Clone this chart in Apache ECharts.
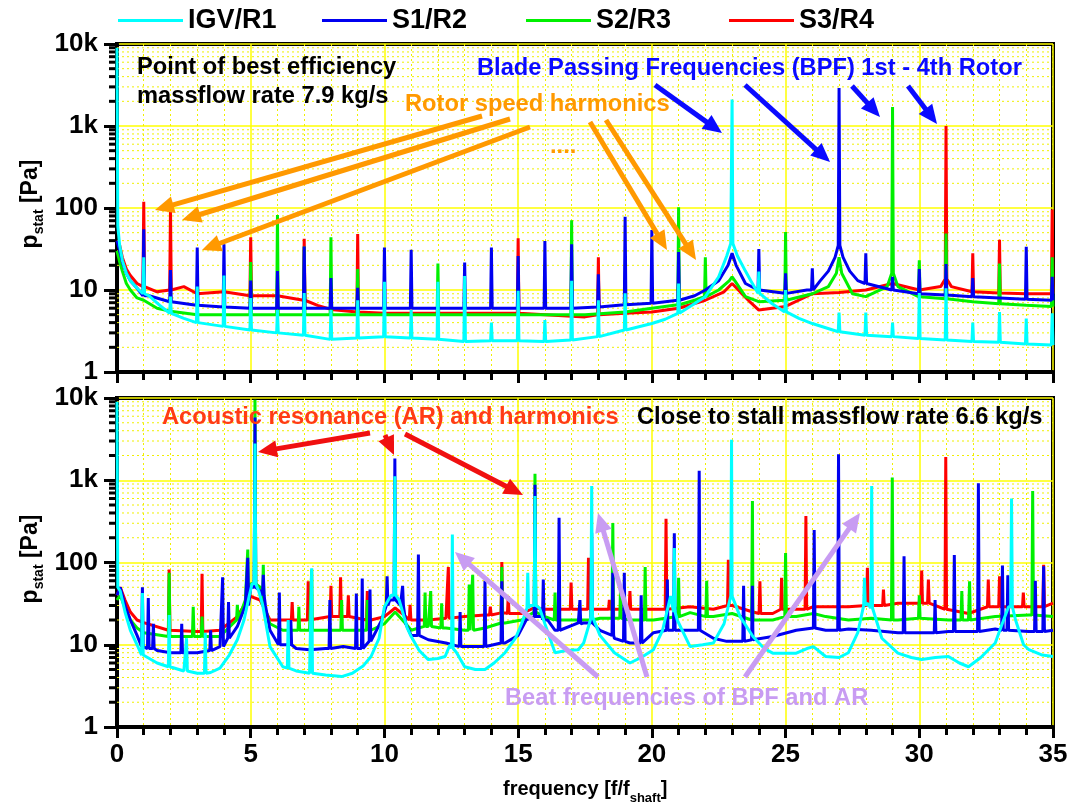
<!DOCTYPE html>
<html>
<head>
<meta charset="utf-8">
<script src="https://cdn.jsdelivr.net/npm/echarts@6/dist/echarts.min.js"></script>
<style>
body{margin:0;background:#fff;}
#chart{width:1074px;height:807px;}
</style>
</head>
<body>
<div id="chart"></div>
<script>
// ---- data: baseline [freq, p] and peaks [freq, foot, top] ----
var seriesNames = ['IGV/R1', 'S1/R2', 'S2/R3', 'S3/R4'];
var seriesColors = ['#00ffff', '#0000f0', '#00f000', '#ff0000'];
var yTickValues = [1, 10, 100, 1000, 10000];
var yTickText = ['1', '10', '100', '1k', '10k'];

// top: point of best efficiency
var topIgvBase = [[0,9000],[0.03,60],[0.1,35],[0.2,23],[0.35,16],[0.5,13],[0.75,10.5],[1.2,8.5],[1.6,6.5],[2,5.2],[2.5,4.5],[3,4],[4,3.6],[5,3.25],[6,3.0],[7,2.8],[8,2.5],[9,2.6],[10,2.7],[11,2.6],[12,2.5],[13,2.35],[14,2.4],[15,2.4],[16,2.35],[17,2.45],[18,2.7],[19,3.25],[20,3.9],[20.5,4.4],[21,5.2],[21.5,6.5],[22,8.3],[22.5,14.5],[22.8,26],[22.95,37],[23.05,37],[23.2,26],[23.5,17],[23.7,13],[24,9.1],[24.5,6.8],[25,5.4],[25.5,4.5],[26,3.9],[27,3.1],[28,2.8],[29,2.7],[30,2.57],[31,2.45],[32,2.35],[33,2.3],[34,2.2],[35,2.13]];
var topIgvPeaks = [[1,9,25],[2,5.2,8.3],[3,4,11],[4,3.6,15],[5,3.25,8],[6,3,5.7],[7,2.8,9.2],[8,2.5,5.7],[9,2.6,7.5],[10,2.7,12.6],[11,2.6,5.7],[12,2.5,12.6],[13,2.35,14.8],[14,2.4,4],[15,2.4,9.8],[16,2.35,4.3],[17,2.45,13],[18,2.7,7.5],[19,3.25,9.1],[21,5.2,12],[23,37,2100],[24,9.1,16.8],[25,5.4,10],[27,3.1,5.3],[28,2.8,5.3],[29,2.7,4],[30,2.57,9.2],[31,2.45,10.5],[32,2.35,4],[33,2.3,5.4],[34,2.2,4.5],[34.97,2.13,5.2]];
var topS1Base = [[0,40],[0.1,30],[0.2,22],[0.35,16],[0.5,13],[0.75,10.5],[1.2,8.5],[2,7.2],[3,6.5],[4,6.2],[6,6],[8,6],[10,6],[12,6],[14,6],[16,6],[18,6.2],[19,6.6],[20,6.9],[21,7.5],[21.6,8.5],[22,10],[22.5,13],[22.85,20],[23,28],[23.15,20],[23.5,12],[24,10],[25,9.1],[25.8,10],[26.3,13],[26.6,17],[26.85,25],[27,35],[27.15,25],[27.4,17],[27.7,13],[28,12],[29,10],[30,9],[31,8.7],[32,8.3],[33,8],[34,7.7],[35,7.5]];
var topS1Peaks = [[1,8.5,55],[2,7.2,17.5],[3,6.5,33],[4,6.2,36],[5,6,13],[6,6,17],[7,6,34],[8,6,14],[9,6,10.6],[10,6,33],[11,6,31],[13,6,21.7],[14,6,33],[15,6,26],[16,6,39.5],[17,6,36],[18,6.2,15.6],[19,6.6,78],[20,6.9,54],[21,7.5,29],[24,10,31.6],[25,9.1,16],[26,10,18.4],[27,35,2900],[28,12,28],[29,10,14.5],[30,9,18],[31,8.7,20.7],[32,8.3,14],[34,7.7,33.6],[34.97,7.5,14.5]];
var topS2Base = [[0,30],[0.1,22],[0.2,17],[0.35,12],[0.5,10],[0.75,8],[1,7.5],[1.5,6],[2,5.5],[3,5],[5,5],[8,5],[12,5],[16,5],[17.5,5],[19,5.4],[20,6],[21,6.6],[21.6,7.5],[22,8.3],[22.5,10],[22.9,13],[23,14.5],[23.1,13],[23.5,8.3],[24,7.2],[25,7.5],[26,9],[26.6,11],[26.9,16],[27,25],[27.1,16],[27.5,9],[28,8.3],[28.8,11],[29,16],[29.2,11],[30,8.3],[31,7.8],[32,7.2],[33,6.8],[34,6.5],[35,6.3]];
var topS2Peaks = [[5,5,22],[6,5,82],[7,5,34],[8,5,44],[9,5,18],[12,5,21],[17,5,71],[21,6.6,102],[22,8.3,25],[25,7.5,51],[29,16,1700],[30,8.3,23],[31,7.8,49],[33,6.8,21],[34.97,6.3,25]];
var topS3Base = [[0,40],[0.1,35],[0.2,25],[0.35,18],[0.5,15],[0.75,12],[1,11],[1.5,9.5],[2,10],[2.5,11],[3,9],[4,9.5],[5,8.5],[6,8.5],[7,7.5],[7.5,6.5],[8,5.8],[9,5.4],[10,5.2],[12,5.2],[14,5.2],[16,5],[17.5,4.7],[19,5.2],[20,5.4],[21,6],[22,7.5],[22.7,9.5],[23,12],[23.3,9.5],[23.7,7],[24,5.7],[25,6.3],[26,9],[27,9.3],[28,10],[29,12],[30,10],[30.8,11],[31,13.6],[31.2,11],[32,9.5],[33,9.2],[34,9],[35,9]];
var topS3Peaks = [[1,11,119],[2,10,99],[5,8.5,44],[7,7.5,42],[9,5.4,48],[15,5.2,42.7],[18,5,25],[31,13.6,1000],[32,9.5,28],[33,9.2,41],[34.97,9,96]];

// bottom: close to stall
var botIgvBase = [[0,9000],[0.03,50],[0.12,45],[0.3,25],[0.5,15],[0.75,10],[1,7.2],[1.5,6],[2,5.4],[2.5,4.8],[3,4.5],[3.5,4.6],[3.85,5.2],[4.2,7.5],[4.5,11.5],[4.75,20],[4.95,40],[5.05,55],[5.3,45],[5.45,30],[5.72,9.5],[6.2,5.4],[6.7,4.8],[7.2,4.5],[7.8,4.3],[8.4,4.1],[8.8,4.5],[9.2,5.5],[9.5,7.2],[9.8,12],[10.0,29],[10.25,40],[10.55,35],[10.65,27],[10.85,16],[11.0,12.6],[11.3,8.5],[11.64,6.6],[12.0,6.8],[12.27,7.2],[12.45,10],[12.7,8],[13.0,5.4],[13.4,5],[13.76,5],[14.1,6],[14.51,8],[14.9,12],[15.13,18],[15.45,30],[15.8,28],[16.0,18],[16.38,8],[16.8,8.5],[17.25,8.7],[17.45,10.5],[17.7,20],[17.85,22],[18.06,13],[18.6,8],[19.18,6],[19.6,7],[20.06,8.7],[20.4,15],[20.7,39],[20.95,20],[21.43,9.5],[21.9,10],[22.3,10.5],[22.7,18],[23.0,39],[23.3,22],[23.78,12.6],[24.2,9],[24.52,7.9],[25.4,7.9],[25.8,9],[26.04,9.5],[26.5,7.2],[27.0,7],[27.35,8],[27.7,14],[28.05,32],[28.3,28],[28.6,12],[29.2,7.9],[29.7,7],[30.09,6.6],[30.6,7],[31.09,7.2],[31.5,6],[31.84,5.4],[32.3,7],[32.84,10.5],[33.1,18],[33.34,29],[33.6,20],[33.9,10],[34.1,8.7],[34.6,7.5],[35,7.2]];
var botIgvPeaks = [[0.95,7.5,42.7],[1.95,5.4,23],[2.6,4.8,12],[3.3,4.5,14],[5.16,55,2800],[6.4,5.2,20],[7.28,4.5,85],[10.39,40,1120],[12.54,9,219],[15.36,28,75],[15.63,30,645],[17.75,22,850],[20.84,25,150],[22.98,39,3100],[27.95,30,65],[28.22,28,850],[33.45,29,600]];
var botS1Base = [[0,40],[0.12,50],[0.3,30],[0.5,20],[0.75,13],[1,9.5],[1.5,8.5],[2,8],[2.5,7.8],[3,8],[3.5,8.5],[3.85,9.5],[4.2,12],[4.5,16.7],[4.8,30],[5.0,50],[5.35,45],[5.55,30],[5.72,15],[6.2,10],[6.7,9],[7.2,8.7],[7.8,9],[8.46,9.5],[9.0,9],[9.5,11.5],[9.9,20],[10.2,35],[10.6,30],[10.8,18],[11.0,13],[11.64,11.5],[12.3,10.5],[13.0,9.5],[13.76,9.5],[14.51,10.5],[15.0,13],[15.3,20],[15.9,22],[16.1,20],[16.38,15],[17.25,18.4],[17.44,18.4],[18.06,15],[18.6,12],[19.18,10.5],[20.06,14],[20.6,15],[21.43,15],[22.3,12],[22.8,11],[23.3,11],[23.78,11.5],[24.52,12.6],[25.4,15],[26.04,16],[26.5,15],[27.35,15.5],[28.2,15],[29.2,14],[30.09,14],[31.09,14.5],[31.84,14.5],[32.84,15.5],[34.1,14.5],[35,15]];
var botS1Peaks = [[0.95,9.5,50],[1.17,9,37],[1.36,9,18],[2.42,8,18],[3.5,8.5,15],[3.95,9.5,66],[4.17,12,33],[4.89,30,114],[5.16,50,5800],[5.47,40,71],[6.07,10,43],[6.5,10,20],[7.96,9,35],[8.95,9,42],[9.17,9,64],[9.46,11,47],[10.1,30,68],[10.39,35,1840],[10.68,30,52],[11.27,13,125],[12.83,9.5,25],[13.76,9.5,60],[14.39,10.5,59],[15.63,22,880],[15.94,20,62],[16.53,15,350],[17.31,18,35],[17.75,18.4,230],[18.54,13,75],[18.97,11,75],[19.6,10.5,40],[20.58,15,62],[20.84,15,226],[21.77,15,1300],[23.43,11,52],[23.76,11.5,52],[26.07,16,248],[26.98,15,2075],[29.43,14,119],[30.59,14,35],[31.31,14.5,123],[32.21,14.5,920],[33.11,15,92],[33.31,15,70],[34.34,14.5,60],[34.65,14.5,90]];
var botS2Base = [[0,35],[0.12,40],[0.3,28],[0.5,20],[0.75,16],[1,14],[2,12.6],[3,12.6],[3.85,12.6],[4.5,20],[4.8,35],[5.0,55],[5.35,50],[5.55,30],[5.72,18],[6.2,15],[7.2,15],[8.46,15],[9.5,15],[10.0,18],[10.4,25],[10.8,18],[11.0,15],[11.64,16.7],[12.3,16],[13.0,15],[13.76,16],[14.51,18.4],[15.13,20],[15.6,25],[16.0,22],[16.38,20],[17.25,20],[17.44,20],[18.06,21],[19.18,20],[20.06,20],[21.43,24.6],[22.3,22],[23.0,24],[23.78,20],[24.52,20],[25.4,22],[26.04,24],[26.5,22],[27.35,20],[28.2,21],[29.2,20],[30.09,21],[31.09,20],[31.84,20],[32.84,22],[34.1,23],[35,22]];
var botS2Peaks = [[1.95,12.6,75],[2.85,12.6,29],[3.18,12.6,22],[4.5,20,30.6],[4.89,35,144],[5.16,55,9500],[5.47,30,94],[6.8,15,29],[7.28,15,82],[8.4,15,35],[9.36,15,35],[11.52,16.7,43],[11.73,16.7,45],[12.14,16,32],[13.17,15,54],[13.3,15,71],[14.39,18.4,88],[15.63,25,1200],[16.38,20,43],[17.75,20,62],[18.54,21,303],[18.83,21,50],[19.75,20,88],[21.0,22,65],[22.05,22,60],[23.76,20,560],[25.0,22,130],[28.99,20,1080],[30.0,21,40],[31.59,20,45],[31.88,20,59],[34.24,23,740]];
var botS3Base = [[0,40],[0.12,50],[0.3,35],[0.5,25],[0.75,20],[1,18.6],[2,15],[3,14.5],[3.85,15],[4.5,22],[4.97,39],[5.35,35],[5.72,20],[6.2,20],[7.2,20],[8.46,22],[9.5,20],[10.0,22],[10.4,28],[10.8,22],[11.0,20],[11.64,20],[12.3,21],[13.0,22],[13.76,23],[14.51,24.4],[15.13,24],[15.6,28],[16.0,27],[16.38,27],[17.25,27],[17.44,27],[18.06,27],[19.18,27],[20.06,27],[21.43,29],[22.3,27],[23.0,30],[23.78,25],[24.52,24],[25.4,27],[26.04,29],[26.5,29],[27.35,29],[28.2,30],[29.2,32],[30.09,32],[31.09,27],[31.84,24],[32.84,29],[34.1,29],[35,32]];
var botS3Peaks = [[1.95,15,82],[3.18,14.5,73],[6.55,20,33],[7.15,20,59],[8.0,22,52],[8.36,22,66],[8.65,22,40],[9.36,20,45],[10.96,20,30.6],[12.39,21,88],[13.96,23,29],[14.39,24.4,101],[14.63,24,39],[16.98,27,57],[17.63,27,114],[18.41,27,35],[19.18,27,45],[20.53,27,341],[22.86,30,108],[24.04,24,59],[24.85,27,65],[25.76,27,367],[28.06,30,86],[28.66,30,47],[30.09,32,80],[30.34,32,62],[30.99,27,1920],[32.58,29,62],[33.0,29,68],[33.89,29,43],[34.65,29,94]];

// ---- build ----
var FONT = '"Liberation Sans", Arial, sans-serif';

function spectrum(base, peaks) {
    var pts = base.slice();
    peaks.forEach(function (p) {
        pts.push([p[0] - 0.03, p[1]], [p[0], p[2]], [p[0] + 0.03, p[1]]);
    });
    return pts.sort(function (a, b) { return a[0] - b[0]; });
}

var panels = [
    [topIgvBase, topIgvPeaks, topS1Base, topS1Peaks, topS2Base, topS2Peaks, topS3Base, topS3Peaks],
    [botIgvBase, botIgvPeaks, botS1Base, botS1Peaks, botS2Base, botS2Peaks, botS3Base, botS3Peaks]
];

// minor log grid (2..9 per decade)
var yMinor = [];
for (var d = 1; d < 10000; d *= 10) {
    for (var m = 2; m <= 9; m++) yMinor.push([0, m * d]);
}

var series = [];
panels.forEach(function (arr, gi) {
    series.push({
        type: 'custom', xAxisIndex: gi, yAxisIndex: gi, clip: false, silent: true, z: 1,
        data: yMinor,
        renderItem: function (params, api) {
            var p = api.coord([0, api.value(1)]);
            var cs = params.coordSys;
            return {
                type: 'group', children: [
                    { type: 'line', shape: { x1: cs.x, y1: p[1], x2: cs.x + cs.width, y2: p[1] },
                      style: { stroke: '#f0f000', lineWidth: 1, lineDash: [2, 3] } },
                    { type: 'line', shape: { x1: cs.x - 8, y1: p[1], x2: cs.x, y2: p[1] },
                      style: { stroke: '#000', lineWidth: 3 } }
                ]
            };
        }
    });
    // draw order: S3 (bottom) ... IGV (top)
    for (var k = 3; k >= 0; k--) {
        series.push({
            name: seriesNames[k], type: 'line', xAxisIndex: gi, yAxisIndex: gi,
            data: spectrum(arr[k * 2], arr[k * 2 + 1]),
            showSymbol: false, symbol: 'none', animation: false, z: 2 + (3 - k),
            color: seriesColors[k],
            lineStyle: { width: 3, color: seriesColors[k] }
        });
    }
});

function xAxis(gi) {
    return {
        type: 'value', gridIndex: gi, min: 0, max: 35, interval: 5,
        axisLine: { lineStyle: { color: '#000', width: 4 } },
        axisTick: { inside: false, length: 11, lineStyle: { width: 3, color: '#000' } },
        minorTick: { show: true, splitNumber: 5, length: 8, lineStyle: { width: 3, color: '#000' } },
        axisLabel: { show: gi === 1, margin: 15, fontSize: 26, fontWeight: 'bold', color: '#000', fontFamily: FONT },
        splitLine: { show: true, lineStyle: { color: '#ffff00', width: 1.5 } },
        minorSplitLine: { show: true, lineStyle: { color: '#f0f000', width: 1, type: [2, 3] } }
    };
}
function yAxis(gi) {
    return {
        type: 'log', gridIndex: gi, min: 1, max: 10000, logBase: 10,
        axisLine: { show: true, lineStyle: { color: '#000', width: 4 } },
        axisTick: { inside: false, length: 13, lineStyle: { width: 3, color: '#000' } },
        axisLabel: {
            margin: 19, fontSize: 26, fontWeight: 'bold', color: '#000', fontFamily: FONT,
            formatter: function (v) {
                var i = yTickValues.indexOf(Math.round(v));
                return i >= 0 ? yTickText[i] : '';
            }
        },
        splitLine: { show: true, lineStyle: { color: '#ffff00', width: 1.5 } }
    };
}

// ---- annotations (pixel positions) ----
function arrow(a, color, w) {
    var x1 = a[0], y1 = a[1], x2 = a[2], y2 = a[3];
    var dx = x2 - x1, dy = y2 - y1, len = Math.sqrt(dx * dx + dy * dy);
    var ux = dx / len, uy = dy / len, hl = 19, hw = 17;
    var bx = x2 - ux * hl, by = y2 - uy * hl;
    return {
        type: 'group', silent: true, z: 100, children: [
            { type: 'line', z: 100, shape: { x1: x1, y1: y1, x2: bx + ux * 2, y2: by + uy * 2 }, style: { stroke: color, lineWidth: w } },
            { type: 'polygon', z: 100, shape: { points: [[x2, y2], [bx - uy * hw / 2, by + ux * hw / 2], [bx + uy * hw / 2, by - ux * hw / 2]] }, style: { fill: color } }
        ]
    };
}
function label(x, y, text, color) {
    return { type: 'text', x: x, y: y, z: 100, silent: true,
        style: { text: text, fill: color, font: 'bold 23.7px ' + FONT, verticalAlign: 'middle', align: 'left' } };
}
var measureCtx = document.createElement('canvas').getContext('2d');
function textWidth(t, font) { measureCtx.font = font; return measureCtx.measureText(t).width; }

var orange = '#ff9900', blueTxt = '#0a0aff', redTxt = '#ff3c14', redArrow = '#f01010', purple = '#c89cf2';
var elements = [];
[[482,116,155,210],[510,119,182,220],[530,127,202,250],[590,122,667,250],[606,120,696,260]].forEach(function (a) { elements.push(arrow(a, orange, 5)); });
[[655,85,722,133],[745,85,830,162],[852,86,880,117],[908,86,937,124]].forEach(function (a) { elements.push(arrow(a, blueTxt, 5)); });
[[370,433,258,452],[385,435,394,455],[405,434,523,495]].forEach(function (a) { elements.push(arrow(a, redArrow, 5)); });
[[598,677,455,552],[647,677,598,513],[745,677,860,513]].forEach(function (a) { elements.push(arrow(a, purple, 5)); });

elements.push(label(137, 67, 'Point of best efficiency', '#000'));
elements.push(label(137, 96, 'massflow rate 7.9 kg/s', '#000'));
elements.push(label(477, 68, 'Blade Passing Frequencies (BPF) 1st - 4th Rotor', blueTxt));
elements.push(label(405, 104, 'Rotor speed harmonics', orange));
elements.push(label(550, 146, '....', orange));
elements.push(label(162, 417, 'Acoustic resonance (AR) and harmonics', redTxt));
elements.push(label(637, 417, 'Close to stall massflow rate 6.6 kg/s', '#000'));
elements.push(label(505, 698, 'Beat frequencies of BPF and AR', purple));

// y axis titles: p_stat [Pa], rotated
function yTitle(cy) {
    var big = 'bold 23px ' + FONT, small = 'bold 14px ' + FONT;
    var wp = textWidth('p', big), ws = textWidth('stat', small), wb = textWidth(' [Pa]', big);
    var x0 = -(wp + ws + wb) / 2;
    return {
        type: 'group', x: 31, y: cy, rotation: Math.PI / 2, silent: true, children: [
            { type: 'text', x: x0, y: 0, style: { text: 'p', font: big, fill: '#000', verticalAlign: 'middle' } },
            { type: 'text', x: x0 + wp, y: 8, style: { text: 'stat', font: small, fill: '#000', verticalAlign: 'middle' } },
            { type: 'text', x: x0 + wp + ws, y: 0, style: { text: ' [Pa]', font: big, fill: '#000', verticalAlign: 'middle' } }
        ]
    };
}
elements.push(yTitle(204));
elements.push(yTitle(559));

(function () {
    var big = 'bold 20px ' + FONT, small = 'bold 13px ' + FONT;
    var w1 = textWidth('frequency [f/f', big), w2 = textWidth('shaft', small);
    var x0 = 503;
    elements.push({ type: 'text', x: x0, y: 789, silent: true, style: { text: 'frequency [f/f', font: big, fill: '#000', verticalAlign: 'middle' } });
    elements.push({ type: 'text', x: x0 + w1, y: 798, silent: true, style: { text: 'shaft', font: small, fill: '#000', verticalAlign: 'middle' } });
    elements.push({ type: 'text', x: x0 + w1 + w2, y: 789, silent: true, style: { text: ']', font: big, fill: '#000', verticalAlign: 'middle' } });
})();

// one legend per item so each sits where it does in the picture
var legendLeft = [118, 322, 526, 729];
var legends = seriesNames.map(function (n, i) {
    return {
        data: [n], left: legendLeft[i], top: 7, padding: 0, icon: 'rect', itemWidth: 65, itemHeight: 3, itemGap: 0,
        textStyle: { fontSize: 27, fontWeight: 'bold', color: '#000', fontFamily: FONT }
    };
});

var myChart = echarts.init(document.getElementById('chart'));
var option = {
    backgroundColor: '#fff',
    animation: false,
    legend: legends,
    grid: [
        { left: 117, top: 44, width: 936, height: 328, show: true, borderColor: '#000', borderWidth: 4, backgroundColor: '#fff' },
        { left: 117, top: 398, width: 936, height: 329, show: true, borderColor: '#000', borderWidth: 4, backgroundColor: '#fff' }
    ],
    xAxis: [xAxis(0), xAxis(1)],
    yAxis: [yAxis(0), yAxis(1)],
    series: series,
    graphic: { elements: elements }
};
myChart.setOption(option);
</script>
</body>
</html>
